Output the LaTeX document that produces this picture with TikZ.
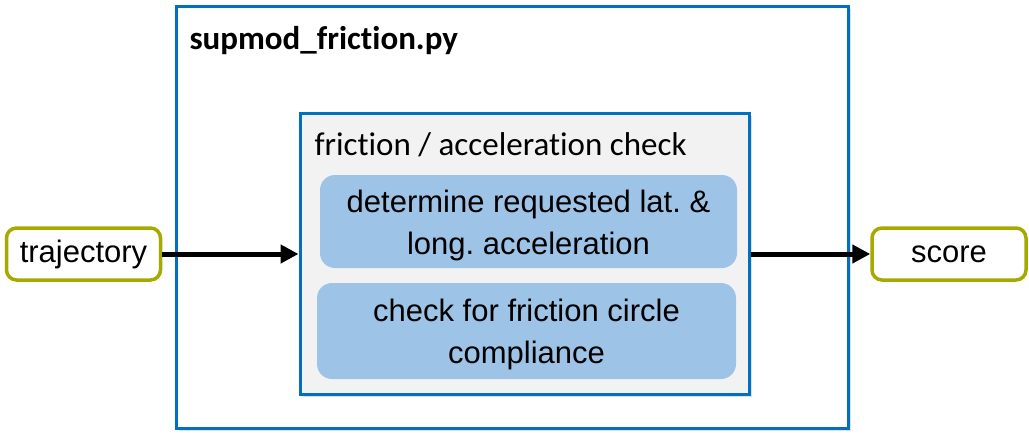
\documentclass[tikz,border=0pt]{standalone}
\usepackage{fontspec}
\setmainfont{Liberation Sans}
\newfontfamily\calibrifont[Ligatures=NoCommon]{Carlito}
\usepackage{xcolor}
\usetikzlibrary{positioning, arrows.meta, shadows}
\frenchspacing

\definecolor{modblue}{RGB}{0,112,192}
\definecolor{stepblue}{RGB}{157,195,230}
\definecolor{ioolive}{RGB}{166,170,0}
\definecolor{checkgray}{RGB}{242,242,242}

\begin{document}
\begin{tikzpicture}[
    x=1pt, y=-1pt,
    modbox/.style={
        rectangle,
        draw=modblue,
        line width=3pt,
        fill=white,
        drop shadow={shadow xshift=3pt, shadow yshift=-3pt, opacity=0.25}
    },
    checkbox/.style={
        rectangle,
        draw=modblue,
        line width=3pt,
        fill=checkgray,
        drop shadow={shadow xshift=3pt, shadow yshift=-3pt, opacity=0.25}
    },
    stepbox/.style={
        rectangle,
        rounded corners=15pt,
        fill=stepblue,
        align=center,
        font=\fontsize{31}{42}\selectfont
    },
    iobox/.style={
        rectangle,
        rounded corners=10pt,
        draw=ioolive,
        line width=3.5pt,
        fill=white,
        align=center,
        minimum width=154pt,
        minimum height=52pt,
        font=\fontsize{31}{36}\selectfont
    },
    arrow/.style={
        line width=5pt,
        -{Triangle[length=18pt, width=18pt]}
    }
]
\useasboundingbox (0,0) rectangle (1029,442);

% Module and check boxes
\node[modbox, minimum width=672pt, minimum height=422pt] (module) at (512,217) {};
\node[anchor=base west, font=\calibrifont\bfseries\fontsize{33}{36}\selectfont] (title) at (186,49) {supmod\_friction.py};

\node[checkbox, minimum width=449pt, minimum height=281pt] (check) at (524.5,253.5) {};
\node[anchor=base west, font=\calibrifont\fontsize{33}{36}\selectfont] (checktitle) at (311,155) {friction / acceleration check};

% Steps
\node[stepbox, minimum width=417pt, minimum height=93pt] (latlong) at (528.5,221.5) {
    \rule{0pt}{30pt}determine requested lat. \&\\
    long. acceleration
};
\node[stepbox, minimum width=419pt, minimum height=96pt] (circle) at (526.5,331) {
    \rule{0pt}{30pt}check for friction circle\\
    compliance
};

% Inputs and outputs
\node[iobox] (trajectory) at (83.5,254) {trajectory};
\node[iobox] (score) at (949,254) {score};

% Arrows
\draw[arrow] (trajectory.east) -- (trajectory.east -| check.west);
\draw[arrow] (check.east |- score.west) -- (score.west);

\end{tikzpicture}
\end{document}
